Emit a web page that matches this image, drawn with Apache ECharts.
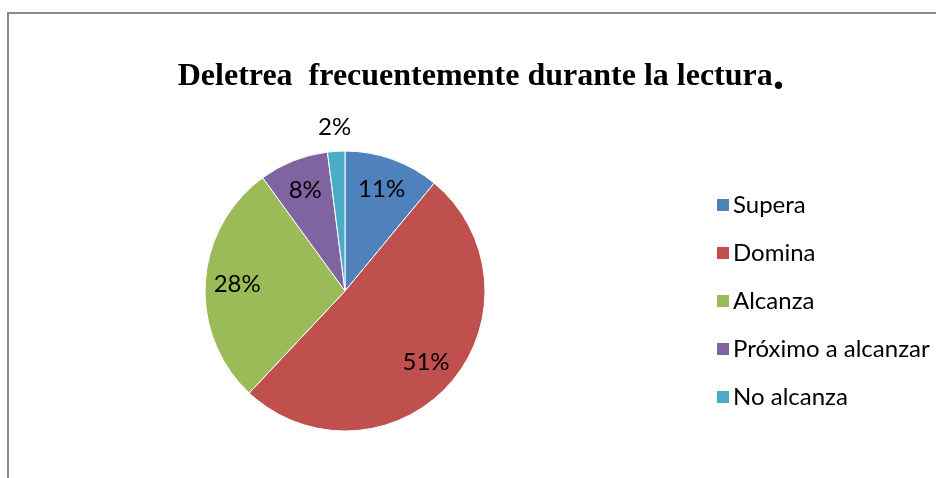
<!DOCTYPE html>
<html>
<head>
<meta charset="utf-8">
<script src="https://cdn.jsdelivr.net/npm/echarts@6/dist/echarts.min.js"></script>
<style>
  html, body { margin: 0; padding: 0; background: #fff; }
  #pie-box { width: 936px; height: 478px; }
</style>
</head>
<body>
<div id="pie-box"></div>
<script>
    // datos
    var categorias = ['Supera', 'Domina', 'Alcanza', 'Próximo a alcanzar', 'No alcanza'];
    var porcentajes = [11, 51, 28, 8, 2];
    var colores = ['#4F81BD', '#C0504D', '#9BBB59', '#8064A2', '#4BACC6'];

    var labelFont = { fontFamily: 'Lato', fontSize: 24, color: '#000' };

    var datos = categorias.map(function (c, i) {
        return { name: c, value: porcentajes[i] };
    });

    // etiquetas interiores (todas menos la ultima) y exterior (la ultima)
    var datosDentro = categorias.map(function (c, i) {
        return { name: c, value: porcentajes[i], label: { show: i < categorias.length - 1 } };
    });
    var datosFuera = categorias.map(function (c, i) {
        return { name: c, value: porcentajes[i], label: { show: i === categorias.length - 1 } };
    });

    var myChart = echarts.init(document.getElementById('pie-box'));

    var option = {
        animation: false,
        color: colores,
        title: {
            text: '{t|Deletrea  frecuentemente durante la lectura}{p|.}',
            left: 476,
            textAlign: 'center',
            top: 49,
            textStyle: {
                rich: {
                    t: { fontFamily: 'Liberation Serif', fontWeight: 'bold', fontSize: 32, color: '#000' },
                    p: { fontFamily: 'Liberation Serif', fontWeight: 'bold', fontSize: 46, color: '#000' }
                }
            }
        },
        legend: {
            orient: 'vertical',
            left: 710,
            top: 188,
            itemWidth: 14,
            itemHeight: 14,
            itemGap: 24,
            icon: 'rect',
            data: categorias,
            textStyle: { fontFamily: 'Lato', fontSize: 24, color: '#000', lineHeight: 24, padding: [0, 0, 0, -2] }
        },
        graphic: [
            { type: 'line', shape: { x1: 8, y1: 13, x2: 936, y2: 13 }, style: { stroke: '#8c8c8c', lineWidth: 2 } },
            { type: 'line', shape: { x1: 8, y1: 12, x2: 8, y2: 478 }, style: { stroke: '#8c8c8c', lineWidth: 2 } }
        ],
        series: [
            {
                type: 'pie',
                center: [345, 291],
                radius: [0, 140],
                startAngle: 90,
                clockwise: true,
                silent: true,
                label: { show: false },
                labelLine: { show: false },
                itemStyle: { borderColor: '#fff', borderWidth: 1 },
                data: datos
            },
            {
                type: 'pie',
                center: [345, 291],
                radius: [70, 140],
                startAngle: 90,
                silent: true,
                itemStyle: { color: 'rgba(0,0,0,0)' },
                label: Object.assign({ position: 'inside', formatter: '{c}%' }, labelFont),
                labelLine: { show: false },
                data: datosDentro
            },
            {
                type: 'pie',
                center: [345, 291],
                radius: [150, 172],
                startAngle: 90,
                silent: true,
                itemStyle: { color: 'rgba(0,0,0,0)' },
                label: Object.assign({ position: 'inside', formatter: '{c}%' }, labelFont),
                labelLine: { show: false },
                data: datosFuera
            }
        ]
    };

    myChart.setOption(option, true);
</script>
</body>
</html>
